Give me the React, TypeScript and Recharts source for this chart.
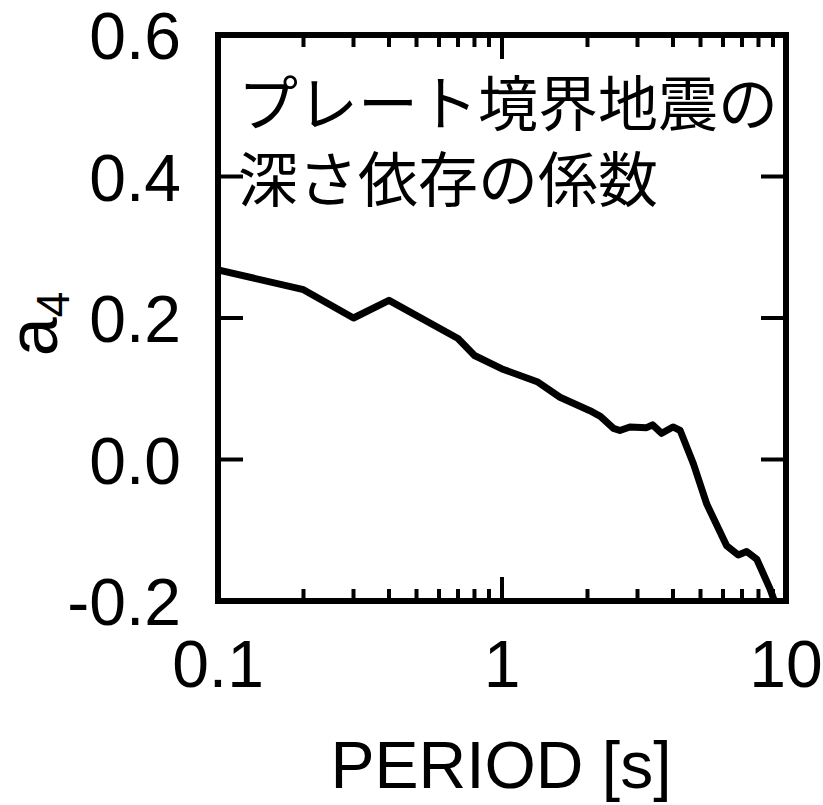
import React from "react";
import { LineChart, Line, XAxis, YAxis, Customized } from "recharts";

// Period [s]
const PERIODS = [0.1, 0.2, 0.3, 0.4, 0.7, 0.8, 1.0, 1.33, 1.6, 2.04, 2.22, 2.47, 2.6, 2.82, 3.23, 3.39, 3.65, 4.0, 4.24, 4.72, 5.26, 6.18, 6.79, 7.27, 7.89, 8.79, 9.1];
// a4 coefficient
const A4 = [0.268, 0.24, 0.2, 0.225, 0.171, 0.147, 0.128, 0.11, 0.088, 0.069, 0.061, 0.044, 0.041, 0.046, 0.045, 0.049, 0.037, 0.046, 0.041, -0.006, -0.063, -0.122, -0.135, -0.13, -0.141, -0.183, -0.2];

const X_MAJOR = [0.1, 1, 10];
const X_MINOR = [0.2, 0.3, 0.4, 0.5, 0.6, 0.7, 0.8, 0.9, 2, 3, 4, 5, 6, 7, 8, 9];
const X_LABELS = ["0.1", "1", "10"];
const Y_TICKS = [-0.2, 0, 0.2, 0.4, 0.6];
const Y_LABELS = ["-0.2", "0.0", "0.2", "0.4", "0.6"];
const TITLE_LINES = ["プレート境界地震の", "深さ依存の係数"];
const X_TITLE = "PERIOD [s]";
const Y_TITLE_MAIN = "a";
const Y_TITLE_SUB = "4";

const data = PERIODS.map((p, i) => ({ period: p, a4: A4[i] }));

const NUM_FONT = "'Liberation Sans', Arial, Helvetica, sans-serif";
const JP_FONT = "'Noto Sans CJK JP', 'Noto Sans CJK SC', sans-serif";

const BottomLabel = (props: any) => {
  const { x, y, payload } = props;
  const idx = X_MAJOR.findIndex((m) => Math.abs(m - payload.value) < 1e-9);
  if (idx < 0) return null;
  return (
    <text x={x} y={y + 86} textAnchor="middle" fontSize={66} fontFamily={NUM_FONT} fill="#000">
      {X_LABELS[idx]}
    </text>
  );
};

const LeftLabel = (props: any) => {
  const { x, y, payload } = props;
  const i = Y_TICKS.findIndex((t) => Math.abs(t - payload.value) < 1e-9);
  if (i < 0) return null;
  return (
    <text x={x - 37} y={y + 24} textAnchor="end" fontSize={66} fontFamily={NUM_FONT} fill="#000">
      {Y_LABELS[i]}
    </text>
  );
};

const Overlay = () => (
  <g>
    <text x={238} y={126} fontSize={60} fontFamily={JP_FONT} fill="#000">
      {TITLE_LINES[0]}
    </text>
    <text x={238} y={202} fontSize={60} fontFamily={JP_FONT} fill="#000">
      {TITLE_LINES[1]}
    </text>
    <text x={501} y={788} textAnchor="middle" fontSize={66} fontFamily={NUM_FONT} fill="#000">
      {X_TITLE}
    </text>
    <text
      x={57}
      y={324}
      transform="rotate(-90 57 324)"
      textAnchor="middle"
      fontSize={70}
      fontFamily={NUM_FONT}
      fill="#000"
    >
      <tspan>{Y_TITLE_MAIN}</tspan>
      <tspan fontSize={46} dy={12}>
        {Y_TITLE_SUB}
      </tspan>
    </text>
  </g>
);

const axisLineStyle = { stroke: "#000", strokeWidth: 6, strokeLinecap: "square" as const };
const xMajorTickStyle = { stroke: "#000", strokeWidth: 4 };
const xMinorTickStyle = { stroke: "#000", strokeWidth: 4 };
const yTickLineStyle = { stroke: "#000", strokeWidth: 4 };
const noLabel = () => "";

const logX = { dataKey: "period", type: "number" as const, scale: "log" as const, domain: [0.1, 10], allowDataOverflow: true, interval: 0 as const };
const linY = { type: "number" as const, domain: [-0.2, 0.6], allowDataOverflow: true, interval: 0 as const };

export default function App() {
  return (
    <div style={{ position: "absolute", left: 0, top: 0, width: 823, height: 805, background: "#fff" }}>
      <LineChart width={823} height={805} data={data} margin={{ top: 0, right: 0, bottom: 0, left: 0 }}>
        {/* bottom frame, major inward ticks, labels */}
        <XAxis
          xAxisId={0}
          {...logX}
          ticks={X_MAJOR}
          orientation="bottom"
          height={204}
          tickSize={-24}
          tickMargin={24}
          tickLine={xMajorTickStyle}
          axisLine={axisLineStyle}
          tick={<BottomLabel />}
        />
        {/* top frame and major inward ticks */}
        <XAxis
          xAxisId="top"
          {...logX}
          ticks={X_MAJOR}
          orientation="top"
          height={35}
          tickSize={-24}
          tickLine={xMajorTickStyle}
          tickFormatter={noLabel}
          axisLine={axisLineStyle}
        />
        {/* minor inward ticks (mirrored axes take no space) */}
        <XAxis xAxisId="bMin" {...logX} ticks={X_MINOR} orientation="bottom" mirror height={30} tickSize={12} tickLine={xMinorTickStyle} tickFormatter={noLabel} axisLine={false} />
        <XAxis xAxisId="tMin" {...logX} ticks={X_MINOR} orientation="top" mirror height={30} tickSize={12} tickLine={xMinorTickStyle} tickFormatter={noLabel} axisLine={false} />

        <YAxis
          yAxisId={0}
          {...linY}
          ticks={Y_TICKS}
          orientation="left"
          width={218}
          tickSize={-25}
          tickMargin={25}
          tickLine={yTickLineStyle}
          axisLine={axisLineStyle}
          tick={<LeftLabel />}
        />
        <YAxis
          yAxisId="right"
          {...linY}
          ticks={Y_TICKS}
          orientation="right"
          width={37}
          tickSize={-25}
          tickLine={yTickLineStyle}
          tickFormatter={noLabel}
          axisLine={axisLineStyle}
        />

        <Line
          xAxisId={0}
          yAxisId={0}
          dataKey="a4"
          type="linear"
          stroke="#000"
          strokeWidth={7}
          strokeLinejoin="round"
          dot={false}
          activeDot={false}
          isAnimationActive={false}
        />
        <Customized component={Overlay} />
      </LineChart>
    </div>
  );
}
